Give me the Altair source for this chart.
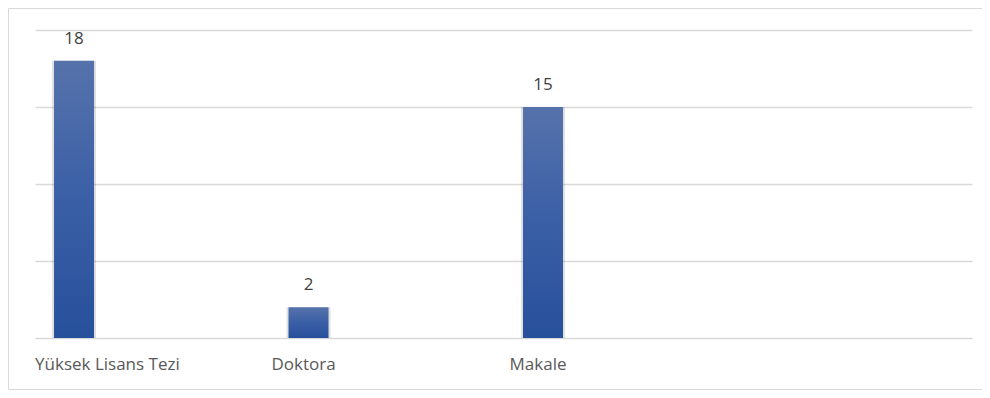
import altair as alt
import pandas as pd

categories = ["Yüksek Lisans Tezi", "Doktora", "Makale"]
values = [18, 2, 15]

df = pd.DataFrame({"kategori": categories, "sayi": values})

x_enc = alt.X(
    "kategori:N",
    sort=categories,
    scale=alt.Scale(domain=categories, paddingInner=0.8, paddingOuter=0.898, align=0.037),
    axis=alt.Axis(
        title=None,
        domain=False,
        ticks=False,
        grid=False,
        labelAngle=0,
        labelOverlap=False,
        labelLimit=400,
        labelFont="Open Sans",
        labelFontSize=17,
        labelColor="#595959",
        labelPadding=18,
        labelAlign={"condition": {"test": "datum.value === 'Yüksek Lisans Tezi'", "value": "left"}, "value": "center"},
        labelOffset={"condition": {"test": "datum.value === 'Yüksek Lisans Tezi'", "value": -39}, "value": -5},
    ),
)
y_enc = alt.Y(
    "sayi:Q",
    scale=alt.Scale(domain=[0, 20]),
    axis=alt.Axis(
        title=None,
        labels=False,
        ticks=False,
        domain=False,
        values=[0, 5, 10, 15, 20],
        grid=True,
        gridColor="#d9d9d9",
        gridWidth=1.4,
    ),
)

base = alt.Chart(df)

shadow = base.mark_bar(size=44, color="#000000", opacity=0.12).encode(x=x_enc, y=y_enc)

bars = base.mark_bar(
    size=40,
    color=alt.Gradient(
        gradient="linear",
        stops=[
            alt.GradientStop(color="#5672AB", offset=0),
            alt.GradientStop(color="#3A5FA6", offset=0.5),
            alt.GradientStop(color="#27509B", offset=1),
        ],
        x1=0, x2=0, y1=0, y2=1,
    ),
).encode(x=x_enc, y=y_enc)

labels = base.mark_text(
    font="Open Sans", fontSize=17, color="#404040", baseline="alphabetic", dy=-17
).encode(x=x_enc, y=y_enc, text="sayi:Q")

border = alt.Chart(alt.Data(values=[{}])).mark_rect(
    fill=None, stroke="#d9d9d9", strokeWidth=1
).encode(
    x=alt.value(-26.5), x2=alt.value(960), y=alt.value(-21.5), y2=alt.value(359.5)
)

chart = alt.layer(border, shadow, bars, labels).properties(
    width=937,
    height=308,
    padding={"left": 27, "top": 22, "right": 10, "bottom": 52},
    autosize="none",
    background="white",
).configure_view(strokeWidth=0)

chart.save("out.html", embed_options={"renderer": "svg", "actions": False})
